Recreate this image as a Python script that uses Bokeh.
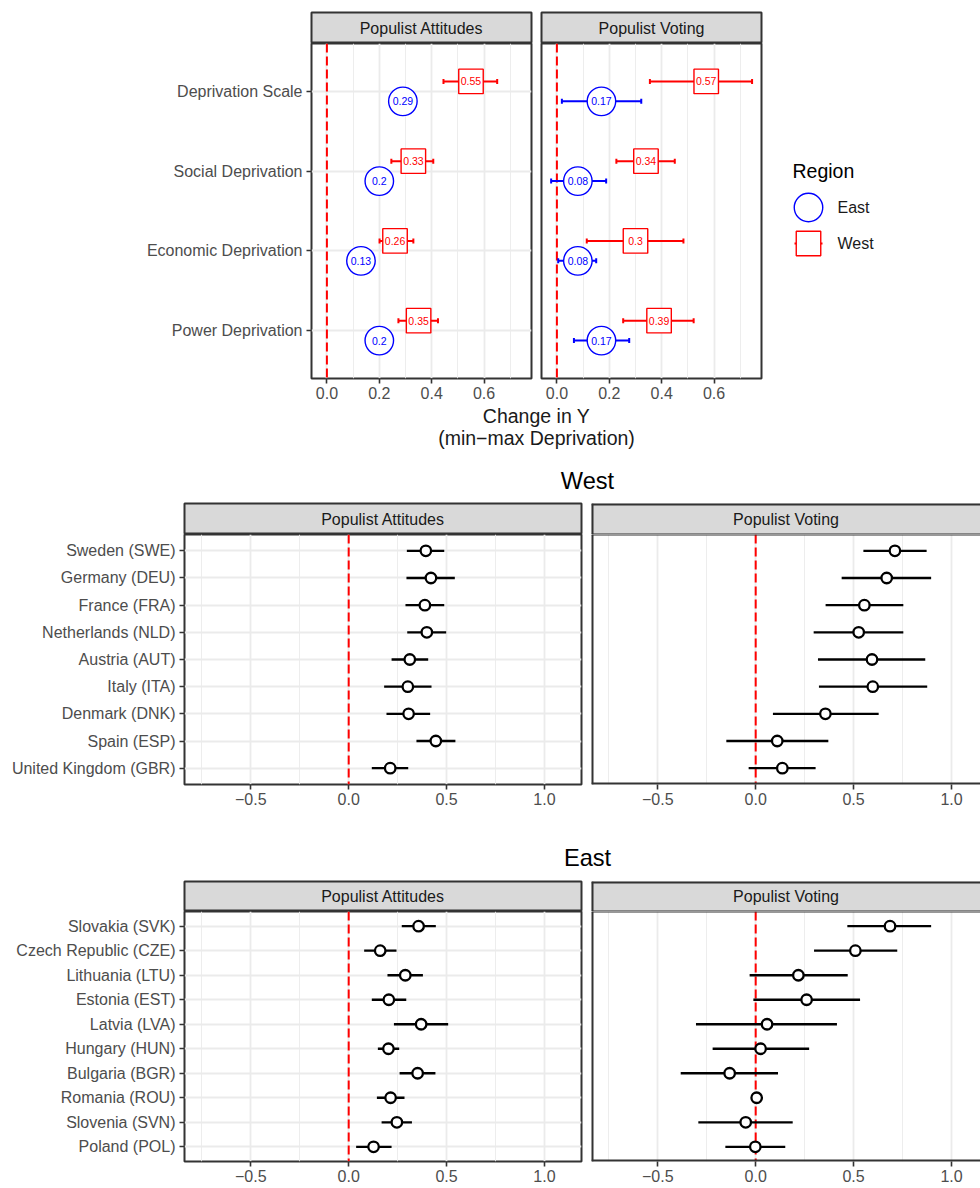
from bokeh.plotting import figure
from bokeh.models import ColumnDataSource, Range1d, FixedTicker, Span, Whisker, TeeHead
from bokeh.layouts import column, row
from bokeh.embed import file_html
from bokeh.resources import INLINE
from bokeh.core.properties import value

FONT = "Liberation Sans"

# ------------------------------------------------------------------ data
measures = ["Deprivation Scale", "Social Deprivation", "Economic Deprivation", "Power Deprivation"]

att_west = [0.55, 0.33, 0.26, 0.35]
att_west_lo = [0.445, 0.246, 0.201, 0.273]
att_west_hi = [0.65, 0.406, 0.33, 0.424]
att_east = [0.29, 0.20, 0.13, 0.20]
att_east_lo = [0.25, 0.16, 0.10, 0.16]
att_east_hi = [0.33, 0.24, 0.16, 0.24]

vote_west = [0.57, 0.34, 0.30, 0.39]
vote_west_lo = [0.355, 0.227, 0.114, 0.253]
vote_west_hi = [0.745, 0.45, 0.483, 0.522]
vote_east = [0.17, 0.08, 0.08, 0.17]
vote_east_lo = [0.019, -0.022, 0.005, 0.065]
vote_east_hi = [0.322, 0.188, 0.15, 0.276]

west_countries = ["Sweden (SWE)", "Germany (DEU)", "France (FRA)", "Netherlands (NLD)",
                  "Austria (AUT)", "Italy (ITA)", "Denmark (DNK)", "Spain (ESP)",
                  "United Kingdom (GBR)"]
west_att = [0.394, 0.420, 0.389, 0.399, 0.312, 0.302, 0.306, 0.445, 0.212]
west_att_lo = [0.297, 0.295, 0.290, 0.299, 0.219, 0.181, 0.193, 0.346, 0.118]
west_att_hi = [0.488, 0.542, 0.488, 0.498, 0.406, 0.423, 0.416, 0.545, 0.304]
west_vote = [0.711, 0.669, 0.555, 0.526, 0.594, 0.598, 0.356, 0.110, 0.136]
west_vote_lo = [0.550, 0.439, 0.357, 0.296, 0.318, 0.323, 0.088, -0.150, -0.036]
west_vote_hi = [0.873, 0.896, 0.754, 0.754, 0.866, 0.876, 0.628, 0.371, 0.306]

east_countries = ["Slovakia (SVK)", "Czech Republic (CZE)", "Lithuania (LTU)", "Estonia (EST)",
                  "Latvia (LVA)", "Hungary (HUN)", "Bulgaria (BGR)", "Romania (ROU)",
                  "Slovenia (SVN)", "Poland (POL)"]
east_att = [0.357, 0.161, 0.289, 0.205, 0.370, 0.203, 0.352, 0.214, 0.246, 0.127]
east_att_lo = [0.271, 0.079, 0.198, 0.118, 0.231, 0.149, 0.260, 0.144, 0.168, 0.038]
east_att_hi = [0.445, 0.244, 0.379, 0.294, 0.508, 0.258, 0.443, 0.285, 0.323, 0.219]
east_vote = [0.686, 0.509, 0.218, 0.260, 0.058, 0.025, -0.133, 0.005, -0.051, -0.002]
east_vote_lo = [0.468, 0.298, -0.031, -0.012, -0.305, -0.220, -0.383, -0.005, -0.293, -0.155]
east_vote_hi = [0.896, 0.723, 0.470, 0.533, 0.415, 0.273, 0.114, 0.015, 0.189, 0.151]

top_xticks = [0.0, 0.2, 0.4, 0.6]
top_xminor = [0.1, 0.3, 0.5, 0.7]
top_xlabels = ["0.0", "0.2", "0.4", "0.6"]
cty_xticks = [-0.5, 0.0, 0.5, 1.0]
cty_xminor = [-0.75, -0.25, 0.25, 0.75]
cty_xlabels = ["\u22120.5", "0.0", "0.5", "1.0"]

# ------------------------------------------------------------------ style
BORDER = "#333333"
GRID = "#EBEBEB"
TICKTXT = "#4D4D4D"
STRIPFILL = "#D9D9D9"
RED = "#FF0000"
BLUE = "#0000FF"
PAGE_W = 980


def lab(v):
    return f"{v:.2f}".rstrip("0").rstrip(".")


def open_border(p, x0, x1, y0, y1):
    """Border for a panel cut off at the page's right edge: left, top, bottom only."""
    p.segment(x0=[x0, x0, x0], y0=[y0, y0, y1], x1=[x0, x1, x1], y1=[y1, y0, y1],
              line_color=BORDER, line_width=[4, 4, 2])


def text_fig(w, h):
    p = figure(width=w, height=h, x_range=Range1d(0, w), y_range=Range1d(h, 0),
               x_axis_type=None, y_axis_type=None, toolbar_location=None, tools="",
               output_backend="svg", min_border=0, outline_line_color=None,
               background_fill_color="white", border_fill_color="white")
    return p


def strip_fig(label, mbl, fw, mbr, fh, mbt, cut=False):
    p = figure(width=mbl + fw + mbr, height=mbt + fh, x_range=Range1d(0, 1), y_range=Range1d(0, 1),
               x_axis_type=None, y_axis_type=None, toolbar_location=None, tools="",
               output_backend="svg", min_border_left=mbl, min_border_right=mbr,
               min_border_top=mbt, min_border_bottom=0,
               background_fill_color=STRIPFILL, border_fill_color="white",
               outline_line_color=None if cut else BORDER, outline_line_width=2)
    p.text(x=[0.5], y=[0.5], text=[label], text_align="center", text_baseline="middle",
           text_font=value(FONT), text_font_size="16px", text_color="#1A1A1A")
    if cut:
        p.segment(x0=[0, 0, 0], y0=[0, 1, 0], x1=[0, 1, 1], y1=[1, 1, 0],
                  line_color=BORDER, line_width=[4, 4, 2])
    return p


def panel_fig(xr, yr, mbl, fw, mbr, fh, mbb, xticks, xminor, xlabels, yticks=None, ylabels=None,
              cut=False):
    p = figure(width=mbl + fw + mbr, height=fh + mbb, x_range=Range1d(*xr), y_range=Range1d(*yr),
               toolbar_location=None, tools="", output_backend="svg",
               min_border_left=mbl, min_border_right=mbr, min_border_top=0, min_border_bottom=mbb,
               background_fill_color="white", border_fill_color="white",
               outline_line_color=None if cut else BORDER, outline_line_width=2)
    xt = FixedTicker(ticks=xticks, minor_ticks=xminor)
    yt = FixedTicker(ticks=yticks if yticks else [], minor_ticks=[])
    xa = p.xaxis[0]
    xa.ticker = xt
    xa.major_label_overrides = dict(zip(xticks, xlabels))
    xa.axis_line_color = None
    xa.major_tick_line_color = BORDER
    xa.major_tick_line_width = 1.6
    xa.major_tick_out = 5
    xa.major_tick_in = 0
    xa.minor_tick_line_color = None
    xa.major_label_text_font = FONT
    xa.major_label_text_font_size = "16px"
    xa.major_label_text_color = TICKTXT
    xa.major_label_standoff = 3
    ya = p.yaxis[0]
    ya.ticker = yt
    if ylabels:
        ya.major_label_overrides = dict(zip(yticks, ylabels))
        ya.axis_line_color = None
        ya.major_tick_line_color = BORDER
        ya.major_tick_line_width = 1.6
        ya.major_tick_out = 5
        ya.major_tick_in = 0
        ya.minor_tick_line_color = None
        ya.major_label_text_font = FONT
        ya.major_label_text_font_size = "16px"
        ya.major_label_text_color = TICKTXT
        ya.major_label_standoff = 4
    else:
        ya.visible = False
    p.xgrid.ticker = xt
    p.ygrid.ticker = yt
    p.xgrid.grid_line_color = GRID
    p.xgrid.grid_line_width = 1.8
    p.xgrid.minor_grid_line_color = GRID
    p.xgrid.minor_grid_line_width = 0.9
    p.ygrid.grid_line_color = GRID
    p.ygrid.grid_line_width = 1.8
    p.add_layout(Span(location=0, dimension="height", line_color=RED, line_width=2,
                      line_dash="9 4", level="underlay"))
    return p


# ------------------------------------------------------------------ top block
nA = len(measures)
yA = [nA - i for i in range(nA)]
DODGE = 0.125
A_MBL, A_FW, A_GAP, A_MBR = 311, 220, 5, 2
A_STRIP_PAD, A_STRIP_H, A_FH, A_MBB = 12, 31, 335, 25
A_XR = (-0.0588, 0.781)
A_YR = (0.4, nA + 0.6)


def top_panel(title, mbl, mbr, w_val, w_lo, w_hi, e_val, e_lo, e_hi, ylabels):
    s = strip_fig(title, mbl, A_FW, mbr, A_STRIP_H, A_STRIP_PAD)
    p = panel_fig(A_XR, A_YR, mbl, A_FW, mbr, A_FH, A_MBB, top_xticks, top_xminor, top_xlabels,
                  yA if ylabels else None, ylabels)
    for vals, lo, hi, off, col, mk, sz in [(e_val, e_lo, e_hi, -DODGE, BLUE, "circle", 28.5),
                                           (w_val, w_lo, w_hi, DODGE, RED, "square", 24.5)]:
        src = ColumnDataSource(dict(x=vals, y=[v + off for v in yA], lo=lo, hi=hi,
                                    label=[lab(v) for v in vals]))
        p.add_layout(Whisker(source=src, base="y", lower="lo", upper="hi", dimension="width",
                             line_color=col, line_width=2, level="underlay",
                             lower_head=TeeHead(size=5, line_color=col, line_width=2),
                             upper_head=TeeHead(size=5, line_color=col, line_width=2)))
        p.scatter("x", "y", source=src, marker=mk, size=sz, fill_color="white",
                  line_color=col, line_width=1.4)
        p.text("x", "y", text="label", source=src, text_align="center", text_baseline="middle",
               text_font=value(FONT), text_font_size="10.5px", text_color=col)
    return column(s, p, spacing=0)


colAL = top_panel("Populist Attitudes", A_MBL, A_GAP, att_west, att_west_lo, att_west_hi,
                  att_east, att_east_lo, att_east_hi, measures)
colAR = top_panel("Populist Voting", A_GAP, A_MBR, vote_west, vote_west_lo, vote_west_hi,
                  vote_east, vote_east_lo, vote_east_hi, None)

A_H = A_STRIP_PAD + A_STRIP_H + A_FH + A_MBB
LEG_W = PAGE_W - (A_MBL + A_FW + A_GAP) - (A_GAP + A_FW + A_MBR)
leg = text_fig(LEG_W, A_H)
leg.text(x=[29], y=[170], text=["Region"], text_align="left", text_baseline="middle",
         text_font=value(FONT), text_font_size="19.5px", text_color="#000000")
leg.scatter(x=[45], y=[207], marker="circle", size=28.5, fill_color="white", line_color=BLUE,
            line_width=1.4)
leg.segment(x0=[31], y0=[243], x1=[59], y1=[243], line_color=RED, line_width=2)
leg.scatter(x=[45], y=[243], marker="square", size=24.5, fill_color="white", line_color=RED,
            line_width=1.4)
leg.text(x=[74, 74], y=[207, 243], text=["East", "West"], text_align="left", text_baseline="middle",
         text_font=value(FONT), text_font_size="16px", text_color="#1A1A1A")

rowA = row(colAL, colAR, leg, spacing=0)

axt = text_fig(PAGE_W, 52)
axt.text(x=[536, 536], y=[12, 34], text=["Change in Y", "(min\u2212max Deprivation)"],
         text_align="center", text_baseline="middle", text_font=value(FONT),
         text_font_size="19.5px", text_color="#1A1A1A")

# ------------------------------------------------------------------ country blocks
C_MBL, C_FW_L, C_GAP = 184, 397, 5
C_FW_R = PAGE_W - (C_MBL + C_FW_L + C_GAP) - C_GAP
C_XR_L = (-0.8386, 1.189)
C_XR_R = (-0.8386, -0.8386 + C_FW_R / 195.8)


def country_block(countries, att, att_lo, att_hi, vote, vote_lo, vote_hi, strip_h, mbb):
    n = len(countries)
    ys = [n - i for i in range(n)]
    yr = (0.4, n + 0.6)
    cols = []
    for title, mbl, fw, mbr, xr, vals, lo, hi, ylab, cut in [
            ("Populist Attitudes", C_MBL, C_FW_L, C_GAP, C_XR_L, att, att_lo, att_hi, countries, False),
            ("Populist Voting", C_GAP, C_FW_R, 0, C_XR_R, vote, vote_lo, vote_hi, None, True)]:
        s = strip_fig(title, mbl, fw, mbr, strip_h, 1, cut=cut)
        p = panel_fig(xr, yr, mbl, fw, mbr, 250, mbb, cty_xticks, cty_xminor, cty_xlabels,
                      ys if ylab else None, ylab, cut=cut)
        src = ColumnDataSource(dict(x=vals, y=ys, lo=lo, hi=hi))
        p.segment(x0="lo", y0="y", x1="hi", y1="y", source=src, line_color="black", line_width=2.3)
        p.scatter("x", "y", source=src, marker="circle", size=10.5, fill_color="white",
                  line_color="black", line_width=2.3)
        if cut:
            open_border(p, xr[0], xr[1], yr[0], yr[1])
        cols.append(column(s, p, spacing=0))
    return row(*cols, spacing=0)


westt = text_fig(PAGE_W, 47)
westt.text(x=[587], y=[25], text=["West"], text_align="center", text_baseline="middle",
           text_font=value(FONT), text_font_size="23.6px", text_color="#000000")
rowB = country_block(west_countries, west_att, west_att_lo, west_att_hi,
                     west_vote, west_vote_lo, west_vote_hi, 31, 28)

eastt = text_fig(PAGE_W, 68)
eastt.text(x=[587], y=[45], text=["East"], text_align="center", text_baseline="middle",
           text_font=value(FONT), text_font_size="23.6px", text_color="#000000")
rowC = country_block(east_countries, east_att, east_att_lo, east_att_hi,
                     east_vote, east_vote_lo, east_vote_hi, 30, 27)

layout = column(rowA, axt, westt, rowB, eastt, rowC, spacing=0)

open("out.html", "w").write(file_html(layout, INLINE))
